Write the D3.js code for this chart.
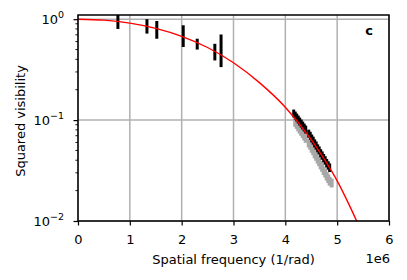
<!DOCTYPE html>
<html>
<head>
<meta charset="utf-8">
<script src="https://cdn.jsdelivr.net/npm/d3@7"></script>
<style>
  body { margin: 0; background: #fff; }
  svg { display: block; font-family: "DejaVu Sans", sans-serif; }
</style>
</head>
<body>
<svg id="vis" width="407" height="280"></svg>
<script>
// low frequency points (x in units of 1e6 1/rad)
let lowX = [0.77, 1.33, 1.52, 2.03, 2.30, 2.64, 2.76];
let lowV = [0.95, 0.86, 0.80, 0.70, 0.57, 0.48, 0.52];
let lowErr = [0.15, 0.14, 0.16, 0.17, 0.07, 0.09, 0.185];

// high frequency cluster, black
let hiX = [4.162, 4.191, 4.220, 4.249, 4.277, 4.306, 4.335, 4.364, 4.393,
           4.451, 4.480, 4.509, 4.538, 4.566, 4.595, 4.624, 4.653, 4.682, 4.711, 4.740, 4.769, 4.798, 4.827, 4.855];
let hiV = [0.1167, 0.1114, 0.1065, 0.1017, 0.0972, 0.0928, 0.0887, 0.0847, 0.0809,
           0.0737, 0.0702, 0.0660, 0.0628, 0.0590, 0.0561, 0.0527, 0.0502, 0.0471, 0.0447, 0.0421, 0.0400, 0.0376, 0.0357, 0.0339];
let hiErr = [0.0105, 0.010, 0.0095, 0.0091, 0.0087, 0.0084, 0.008, 0.0076, 0.0073,
             0.0067, 0.0064, 0.006, 0.0057, 0.0054, 0.0052, 0.0048, 0.0046, 0.0044, 0.0042, 0.004, 0.0038, 0.0036, 0.0034, 0.0033];

// high frequency cluster, grey
let greyX = [4.191, 4.220, 4.249, 4.277, 4.306, 4.335, 4.364, 4.393,
             4.451, 4.480, 4.509, 4.538, 4.566, 4.595, 4.624, 4.653, 4.682, 4.711, 4.740, 4.769, 4.798, 4.827, 4.855, 4.894];
let greyV = [0.0943, 0.0898, 0.0851, 0.0808, 0.0767, 0.0730, 0.0692, 0.0656,
             0.0591, 0.0560, 0.0523, 0.0494, 0.0461, 0.0436, 0.0408, 0.0385, 0.0359, 0.0339, 0.0316, 0.0298, 0.0279, 0.0264, 0.0249, 0.0239];
let greyErr = [0.0085, 0.008, 0.0076, 0.0073, 0.0069, 0.0066, 0.0063, 0.006,
               0.0054, 0.0051, 0.0048, 0.0046, 0.0043, 0.0041, 0.0038, 0.0036, 0.0034, 0.0032, 0.003, 0.0028, 0.0027, 0.0026, 0.0025, 0.0024];

// model curve
let modelX = [0, 0.5, 1.0, 1.5, 2.0, 2.5, 3.0, 3.5, 4.0, 4.5, 4.75, 5.0, 5.25, 5.5];
let modelV = [1.0, 0.978, 0.914, 0.811, 0.676, 0.524, 0.370, 0.235, 0.134, 0.064, 0.041, 0.025, 0.0138, 0.0072];

let xTicks = [0, 1, 2, 3, 4, 5, 6];
let yTicks = [0.01, 0.1, 1];
let yTickLabels = ["-2", "-1", "0"];

var margin = {top: 15, right: 18, bottom: 59, left: 78},
    width = 407 - margin.left - margin.right,
    height = 280 - margin.top - margin.bottom;

var svg = d3.select("#vis")
    .append("g")
    .attr("transform", "translate(" + margin.left + "," + margin.top + ")");

var x = d3.scaleLinear().domain([0, 6]).range([0, width]);
var y = d3.scaleLog().domain([0.01, 1.1]).range([height, 0]);

svg.append("defs").append("clipPath").attr("id", "clip")
    .append("rect").attr("width", width).attr("height", height);

// grid
svg.selectAll(".gx").data(xTicks).enter().append("line")
    .attr("x1", d => x(d)).attr("x2", d => x(d))
    .attr("y1", 0).attr("y2", height)
    .attr("stroke", "#b0b0b0").attr("stroke-width", 1.5);
svg.selectAll(".gy").data(yTicks).enter().append("line")
    .attr("x1", 0).attr("x2", width)
    .attr("y1", d => y(d)).attr("y2", d => y(d))
    .attr("stroke", "#b0b0b0").attr("stroke-width", 1.5);

var plot = svg.append("g").attr("clip-path", "url(#clip)");

// grey bars
plot.selectAll(".grey").data(greyX).enter().append("line")
    .attr("x1", d => x(d)).attr("x2", d => x(d))
    .attr("y1", (d, i) => y(greyV[i] - greyErr[i]))
    .attr("y2", (d, i) => y(greyV[i] + greyErr[i]))
    .attr("stroke", "#a8a8a8").attr("stroke-width", 4);

// black bars
plot.selectAll(".low").data(lowX).enter().append("line")
    .attr("x1", d => x(d)).attr("x2", d => x(d))
    .attr("y1", (d, i) => y(lowV[i] - lowErr[i]))
    .attr("y2", (d, i) => y(lowV[i] + lowErr[i]))
    .attr("stroke", "black").attr("stroke-width", 3);
plot.selectAll(".hi").data(hiX).enter().append("line")
    .attr("x1", d => x(d)).attr("x2", d => x(d))
    .attr("y1", (d, i) => y(hiV[i] - hiErr[i]))
    .attr("y2", (d, i) => y(hiV[i] + hiErr[i]))
    .attr("stroke", "black").attr("stroke-width", 3);

// model
var line = d3.line()
    .x((d, i) => x(modelX[i]))
    .y(d => y(d))
    .curve(d3.curveMonotoneX);
plot.append("path").datum(modelV)
    .attr("d", line)
    .attr("fill", "none")
    .attr("stroke", "red")
    .attr("stroke-width", 1.4);

// axes
var xAxis = svg.append("g")
    .attr("transform", "translate(0," + height + ")")
    .call(d3.axisBottom(x).tickValues(xTicks).tickFormat(d3.format("d")).tickSize(4.5).tickPadding(9));
var yAxis = svg.append("g")
    .call(d3.axisLeft(y).tickValues(yTicks).tickFormat("").tickSize(4.5));

// minor y ticks
var minor = [];
[0.01, 0.1].forEach(b => { for (var k = 2; k <= 9; k++) minor.push(b * k); });
svg.selectAll(".minor").data(minor).enter().append("line")
    .attr("x1", -2.6).attr("x2", 0)
    .attr("y1", d => y(d)).attr("y2", d => y(d))
    .attr("stroke", "black").attr("stroke-width", 0.9);

[xAxis, yAxis].forEach(a => {
    a.select(".domain").remove();
    a.selectAll(".tick line").attr("stroke", "black").attr("stroke-width", 1.2);
    a.selectAll("text").attr("font-size", 13).attr("font-family", "DejaVu Sans").attr("fill", "black");
});

// y tick labels with superscripts
var yl = svg.selectAll(".ylab").data(yTicks).enter().append("text")
    .attr("x", -14).attr("y", d => y(d) + 4.5)
    .attr("text-anchor", "end")
    .attr("font-size", 13);
yl.append("tspan").text("10");
yl.append("tspan").attr("font-size", 9.5).attr("dy", -5.5).text((d, i) => yTickLabels[i].replace("-", "\u2212"));

// frame
svg.append("rect")
    .attr("width", width).attr("height", height)
    .attr("fill", "none").attr("stroke", "black").attr("stroke-width", 1.5);

// labels
svg.append("text")
    .attr("x", width / 2).attr("y", height + 43)
    .attr("text-anchor", "middle").attr("font-size", 13)
    .text("Spatial frequency (1/rad)");
svg.append("text")
    .attr("x", width + 1).attr("y", height + 42)
    .attr("text-anchor", "end").attr("font-size", 13)
    .text("1e6");
svg.append("text")
    .attr("transform", "translate(-53," + (height / 2 + 3) + ") rotate(-90)")
    .attr("text-anchor", "middle").attr("font-size", 13)
    .text("Squared visibility");
svg.append("text")
    .attr("x", width - 20).attr("y", 20)
    .attr("text-anchor", "middle").attr("font-size", 13).attr("font-weight", "bold")
    .text("c");
</script>
</body>
</html>
